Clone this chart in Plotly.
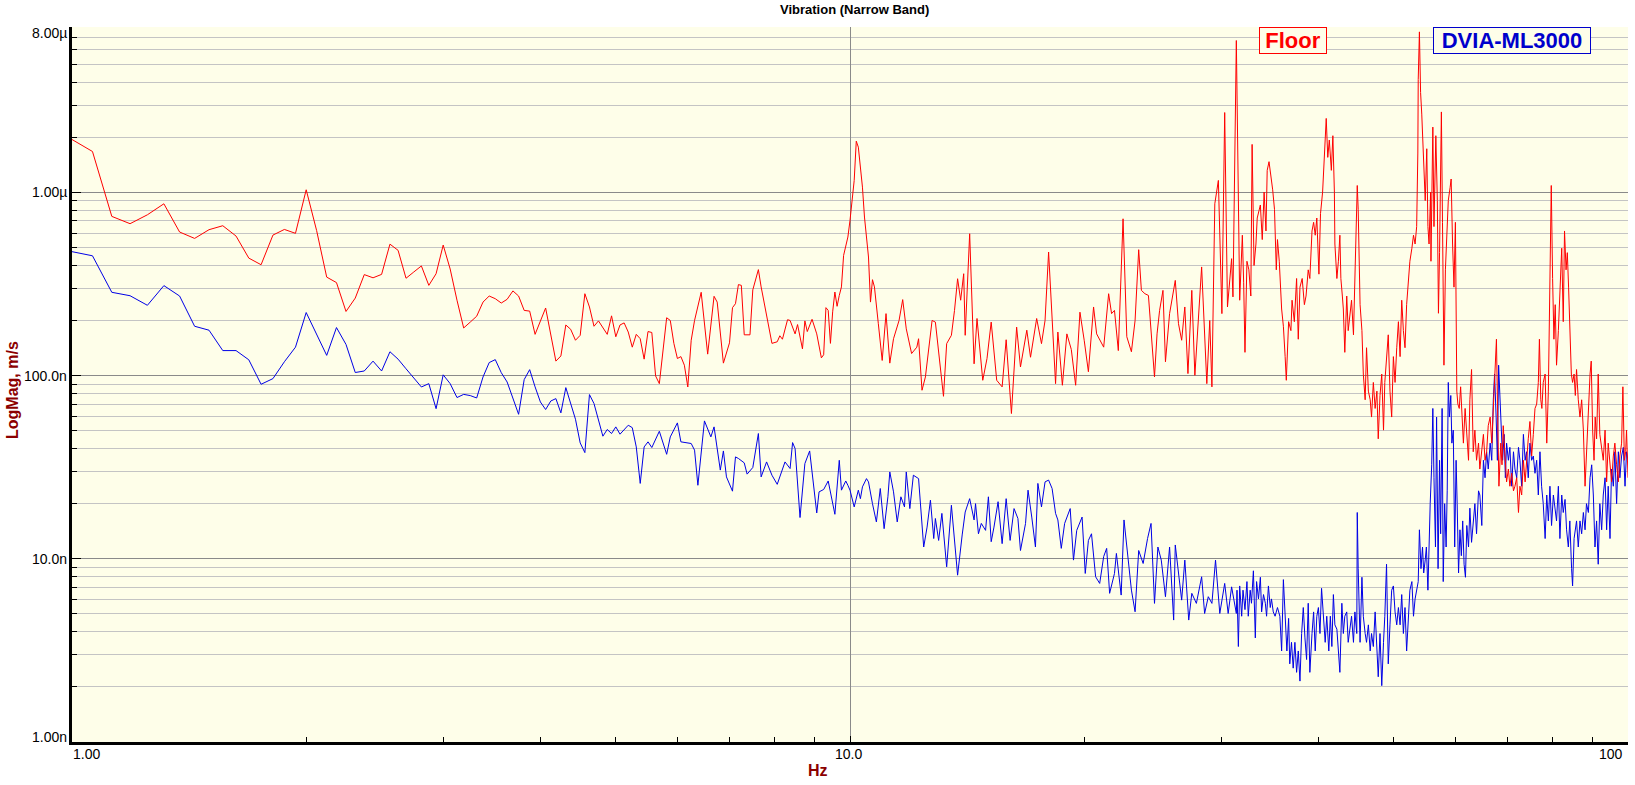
import numpy as np
import plotly.graph_objects as go

# ---------------- data (frequency in Hz, magnitude in nm/s) ----------------
floor_hz = [
    1.0, 1.0625, 1.125, 1.1875, 1.25, 1.3125, 1.375, 1.4375, 1.5, 1.5625,
    1.625, 1.6875, 1.75, 1.8125, 1.875, 1.9375, 2.0, 2.0625, 2.125, 2.1875,
    2.25, 2.3125, 2.375, 2.4375, 2.5, 2.5625, 2.625, 2.6875, 2.75, 2.8125,
    2.875, 2.9375, 3.0, 3.0625, 3.125, 3.1875, 3.25, 3.3125, 3.375, 3.4375,
    3.5, 3.5625, 3.625, 3.6875, 3.75, 3.8125, 3.875, 3.9375, 4.0625, 4.1875,
    4.25, 4.3125, 4.375, 4.4375, 4.5, 4.5625, 4.625, 4.6875, 4.75, 4.875,
    4.9375, 5.0, 5.0625, 5.125, 5.1875, 5.25, 5.3125, 5.375, 5.4375, 5.5,
    5.5625, 5.625, 5.6875, 5.8125, 5.875, 5.9375, 6.0, 6.0625, 6.125, 6.1875,
    6.25, 6.3125, 6.4375, 6.5625, 6.6875, 6.75, 6.875, 7.0, 7.0625, 7.125,
    7.1875, 7.25, 7.3125, 7.4375, 7.5, 7.625, 7.6875, 7.8125, 7.9375, 8.0625,
    8.125, 8.1875, 8.3125, 8.375, 8.5, 8.5625, 8.6875, 8.75, 8.8125, 8.9375,
    9.0625, 9.1875, 9.25, 9.3125, 9.375, 9.4375, 9.5, 9.5625, 9.625, 9.6875,
    9.75, 9.8125, 9.875, 9.9375, 10.0, 10.125, 10.1875, 10.25, 10.375, 10.4375,
    10.5625, 10.625, 10.6875, 10.75, 10.875, 11.0, 11.125, 11.25, 11.375, 11.5625,
    11.6875, 11.8125, 12.0, 12.1875, 12.25, 12.375, 12.5, 12.75, 12.875, 13.0625,
    13.1875, 13.3125, 13.5, 13.625, 13.75, 13.875, 14.0, 14.0625, 14.25, 14.4375,
    14.5625, 14.8125, 15.0, 15.1875, 15.4375, 15.6875, 15.875, 16.125, 16.375, 16.5625,
    16.875, 17.0625, 17.375, 17.625, 17.8125, 18.0, 18.375, 18.5, 18.75, 19.0,
    19.25, 19.5, 19.75, 20.0, 20.25, 20.5625, 20.75, 21.1875, 21.5, 21.6875,
    21.875, 22.125, 22.4375, 22.6875, 23.0, 23.25, 23.5, 23.6875, 23.9375, 24.1875,
    24.4375, 24.625, 24.8125, 25.0, 25.25, 25.4375, 25.75, 26.1875, 26.4375, 26.6875,
    26.9375, 27.1875, 27.5, 27.75, 28.3125, 28.75, 29.0, 29.1875, 29.4375, 29.75,
    30.0625, 30.3125, 30.5625, 30.9375, 31.0625, 31.375, 31.6875, 31.9375, 32.0625, 32.1875,
    32.375, 32.5625, 32.75, 32.875, 33.0625, 33.25, 33.375, 33.5625, 33.6875, 33.875,
    34.0625, 34.25, 34.375, 34.5625, 34.75, 34.9375, 35.125, 35.3125, 35.4375, 35.625,
    35.875, 36.0625, 36.25, 36.375, 36.625, 36.875, 37.0, 37.25, 37.5, 37.6875,
    37.875, 38.125, 38.375, 38.5625, 38.8125, 39.0, 39.25, 39.4375, 39.625, 39.8125,
    40.0625, 40.25, 40.5, 40.6875, 40.9375, 41.125, 41.3125, 41.5625, 41.75, 41.9375,
    42.0, 42.25, 42.4375, 42.625, 42.75, 42.9375, 43.0625, 43.25, 43.5, 43.6875,
    43.9375, 44.125, 44.375, 44.5625, 44.875, 45.0, 45.25, 45.5, 45.6875, 45.9375,
    46.125, 46.375, 46.625, 46.8125, 47.0625, 47.3125, 47.5625, 47.75, 48.0, 48.25,
    48.5, 48.6875, 48.9375, 49.1875, 49.4375, 49.6875, 49.9375, 50.1875, 50.4375, 50.6875,
    50.9375, 51.1875, 51.4375, 51.6875, 51.9375, 52.1875, 52.4375, 52.75, 53.0, 53.25,
    53.5, 53.6875, 53.75, 53.9375, 54.125, 54.3125, 54.5625, 54.875, 55.125, 55.3125,
    55.5, 55.75, 55.8125, 56.125, 56.3125, 56.5, 56.625, 56.875, 57.0625, 57.25,
    57.5625, 57.75, 58.0, 58.25, 58.4375, 58.75, 59.0625, 59.25, 59.5, 59.75,
    60.0, 60.25, 60.4375, 60.6875, 60.9375, 61.1875, 61.4375, 61.75, 62.0625, 62.375,
    62.625, 62.9375, 63.25, 63.5625, 63.875, 64.25, 64.5, 64.875, 65.1875, 65.5,
    65.8125, 66.125, 66.5, 66.8125, 67.125, 67.4375, 67.75, 68.0, 68.25, 68.625,
    68.875, 69.125, 69.5, 69.8125, 70.1875, 70.5, 70.875, 71.25, 71.5625, 71.9375,
    72.3125, 72.625, 73.0, 73.375, 73.75, 74.0625, 74.4375, 74.8125, 75.1875, 75.5625,
    75.9375, 76.3125, 76.6875, 76.9375, 77.25, 77.5, 77.8125, 78.25, 78.625, 79.0,
    79.375, 79.6875, 80.0, 80.3125, 80.625, 80.9375, 81.375, 81.75, 82.1875, 82.5625,
    82.875, 83.25, 83.5625, 83.875, 84.1875, 84.5625, 84.875, 85.25, 85.5625, 85.875,
    86.3125, 86.75, 87.1875, 87.625, 88.0625, 88.4375, 88.9375, 89.375, 89.6875, 90.0625,
    90.4375, 90.75, 91.125, 91.5625, 92.0, 92.5, 92.9375, 93.4375, 93.875, 94.3125,
    94.8125, 95.25, 95.75, 96.1875, 96.6875, 97.1875, 97.625, 98.125, 98.5, 98.9375,
    99.3125, 99.5625, 100.0,
]
floor_nms = [
    1945, 1673, 740, 675, 755, 867, 608, 561, 626, 658,
    578, 438, 403, 585, 628, 598, 1034, 620, 345, 322,
    224, 265, 356, 342, 357, 522, 483, 340, 368, 397,
    311, 360, 516, 382, 258, 182, 196, 211, 252, 272,
    263, 249, 261, 290, 272, 227, 225, 168, 234, 120,
    128, 189, 179, 156, 166, 280, 237, 186, 199, 168,
    212, 163, 189, 194, 173, 143, 168, 159, 123, 174,
    172, 99.6, 90.4, 207, 200, 150, 124, 127, 114, 86.7,
    156, 200, 285, 131, 271, 252, 117, 151, 235, 247,
    314, 311, 167, 167, 294, 379, 305, 218, 150, 153,
    165, 158, 202, 200, 169, 190, 140, 199, 174, 203,
    169, 125, 130, 235, 227, 150, 223, 286, 239, 274,
    305, 453, 515, 571, 704, 1163, 1905, 1767, 1069, 734,
    444, 252, 334, 305, 192, 121, 218, 117, 159, 200,
    260, 180, 132, 143, 159, 83.2, 98.3, 200, 196, 111.5,
    77.1, 149.5, 166, 227, 338, 258, 360, 166, 595, 116,
    205, 94.3, 124, 196, 94.3, 86.8, 157, 62.1, 184, 111.5,
    177, 126, 205, 149.5, 200, 473, 90.4, 173, 88.6, 169,
    139, 88.6, 222, 156, 105, 237, 169, 143, 280, 218,
    227, 137, 718, 163, 135, 200, 487, 292, 280, 274,
    156, 98.3, 169, 227, 292, 119, 218, 331, 192, 156,
    237, 102.6, 292, 100.4, 392, 90.4, 200, 86.8, 867, 1163,
    218, 2730, 237, 435, 269, 6750, 258, 584, 321, 134,
    421, 378, 272, 1829, 399, 523, 725, 809, 854, 553,
    1005, 616, 1320, 1472, 1250, 1033, 809, 378, 553, 421,
    231, 186, 127, 94.3, 197, 176, 258, 197, 339, 158,
    304, 339, 244, 272, 378, 339, 616, 687, 584, 725,
    358, 766, 1005, 1641, 2535, 1554, 1932, 1320, 2040, 1005,
    523, 339, 421, 584, 339, 272, 231, 134, 272, 176,
    219, 258, 167, 304, 1091, 809, 244, 176, 102, 73.8,
    142, 82.3, 73.8, 59.4, 91.8, 66.2, 82.3, 45.2, 77.9, 102,
    50.4, 91.8, 127, 167, 82.3, 59.4, 127, 91.8, 142, 197,
    127, 258, 176, 142, 244, 339, 421, 496, 584, 523,
    651, 1641, 4137, 7526, 3514, 2677, 1472, 902, 1732, 651,
    523, 1005, 421, 2274, 651, 1320, 2040, 902, 219, 469,
    2751, 687, 114, 378, 523, 902, 1062, 1184, 523, 304,
    687, 82.3, 69.9, 66.2, 86.9, 59.4, 42.8, 66.2, 47.8, 34.5,
    73.8, 108, 38.4, 50.4, 34.5, 42.8, 30.9, 38.4, 47.8, 34.5,
    38.4, 53.3, 59.4, 42.8, 66.2, 96.9, 158, 59.4, 24.9, 42.8,
    32.6, 53.3, 34.5, 26.3, 30.9, 24.9, 29.3, 23.5, 24.9, 27.7,
    17.9, 24.9, 22.3, 34.5, 26.3, 36.4, 45.2, 56.2, 36.4, 47.8,
    66.2, 69.9, 91.8, 158, 73.8, 66.2, 91.8, 102, 42.8, 82.3,
    272, 1091, 339, 158, 244, 114, 176, 304, 496, 197,
    616, 378, 469, 304, 158, 102, 91.8, 102, 77.9, 108,
    73.8, 59.4, 73.8, 50.4, 24.9, 38.4, 66.2, 102, 120, 50.4,
    34.5, 59.4, 45.2, 102, 47.8, 38.4, 34.5, 50.4, 26.3, 42.8,
    34.5, 26.3, 36.4, 42.8, 32.6, 26.3, 36.4, 42.8, 86.9, 34.5,
    38.4, 50.4, 27.7,
]

dvia_hz = [
    1.0, 1.0625, 1.125, 1.1875, 1.25, 1.3125, 1.375, 1.4375, 1.5, 1.5625,
    1.625, 1.6875, 1.75, 1.8125, 1.875, 1.9375, 2.0, 2.0625, 2.125, 2.1875,
    2.25, 2.3125, 2.375, 2.4375, 2.5, 2.5625, 2.625, 2.6875, 2.75, 2.8125,
    2.875, 2.9375, 3.0, 3.0625, 3.125, 3.1875, 3.25, 3.3125, 3.375, 3.4375,
    3.5, 3.5625, 3.625, 3.75, 3.8125, 3.875, 3.9375, 4.0, 4.0625, 4.125,
    4.1875, 4.25, 4.3125, 4.4375, 4.5, 4.5625, 4.625, 4.6875, 4.8125, 4.875,
    4.9375, 5.0, 5.0625, 5.125, 5.1875, 5.25, 5.3125, 5.375, 5.4375, 5.5,
    5.5625, 5.6875, 5.8125, 5.875, 6.0, 6.0625, 6.25, 6.3125, 6.375, 6.5,
    6.625, 6.6875, 6.8125, 6.875, 6.9375, 7.0625, 7.125, 7.1875, 7.3125, 7.375,
    7.5, 7.625, 7.6875, 7.8125, 7.9375, 8.0625, 8.25, 8.375, 8.4375, 8.5,
    8.625, 8.75, 8.875, 9.0625, 9.125, 9.25, 9.375, 9.5625, 9.6875, 9.75,
    9.875, 9.9375, 10.0, 10.125, 10.25, 10.3125, 10.375, 10.5, 10.5625, 10.6875,
    10.8125, 10.9375, 11.0625, 11.1875, 11.25, 11.375, 11.5, 11.625, 11.75, 11.8125,
    11.9375, 12.0625, 12.25, 12.4375, 12.5625, 12.6875, 12.8125, 12.875, 13.0, 13.125,
    13.3125, 13.5, 13.625, 13.75, 13.9375, 14.0625, 14.25, 14.4375, 14.5, 14.625,
    14.75, 14.9375, 15.0625, 15.1875, 15.3125, 15.5, 15.6875, 15.875, 16.0625, 16.25,
    16.4375, 16.5625, 16.8125, 16.9375, 17.125, 17.3125, 17.4375, 17.625, 17.8125, 18.0,
    18.1875, 18.375, 18.5, 18.6875, 18.875, 19.1875, 19.375, 19.5625, 19.875, 20.0625,
    20.25, 20.4375, 20.6875, 20.9375, 21.1875, 21.375, 21.5625, 21.875, 22.0, 22.3125,
    22.5, 22.8125, 23.0, 23.25, 23.5, 23.8125, 24.125, 24.375, 24.625, 24.875,
    25.125, 25.4375, 25.75, 26.0625, 26.1875, 26.6875, 26.9375, 27.25, 27.5, 27.875,
    28.3125, 28.5625, 28.875, 29.1875, 29.5, 29.875, 30.3125, 30.625, 30.9375, 31.375,
    31.4375, 31.5625, 31.6875, 31.875, 32.0, 32.1875, 32.375, 32.5, 32.6875, 32.8125,
    33.0, 33.1875, 33.3125, 33.5, 33.6875, 33.8125, 34.0, 34.1875, 34.3125, 34.5,
    34.6875, 34.8125, 35.0, 35.1875, 35.4375, 35.6875, 35.875, 36.0625, 36.25, 36.4375,
    36.625, 36.75, 36.9375, 37.125, 37.3125, 37.5, 37.6875, 37.875, 38.0625, 38.25,
    38.4375, 38.625, 38.8125, 39.0, 39.25, 39.4375, 39.625, 39.8125, 40.0, 40.1875,
    40.375, 40.625, 40.8125, 41.0, 41.25, 41.4375, 41.625, 41.8125, 42.0, 42.25,
    42.4375, 42.625, 42.875, 43.0625, 43.25, 43.5, 43.6875, 43.9375, 44.125, 44.375,
    44.5625, 44.8125, 44.875, 45.0, 45.25, 45.5, 45.6875, 45.9375, 46.125, 46.375,
    46.625, 46.8125, 47.0625, 47.3125, 47.5625, 47.75, 48.0, 48.25, 48.5, 48.6875,
    48.9375, 49.1875, 49.4375, 49.6875, 49.9375, 50.1875, 50.4375, 50.6875, 50.9375, 51.1875,
    51.4375, 51.6875, 51.9375, 52.1875, 52.4375, 52.75, 53.0, 53.25, 53.5, 53.75,
    53.9375, 54.1875, 54.4375, 54.625, 54.875, 55.0625, 55.3125, 55.5, 55.6875, 55.9375,
    56.125, 56.3125, 56.5625, 56.75, 57.0, 57.25, 57.4375, 57.6875, 57.875, 58.125,
    58.375, 58.5625, 58.75, 58.9375, 59.1875, 59.375, 59.625, 59.875, 60.125, 60.3125,
    60.5625, 60.8125, 61.0625, 61.3125, 61.5625, 61.8125, 62.0625, 62.375, 62.625, 62.9375,
    63.25, 63.5625, 63.875, 64.25, 64.5, 64.875, 65.1875, 65.5, 65.8125, 66.125,
    66.5, 66.8125, 67.125, 67.375, 67.6875, 67.9375, 68.1875, 68.5, 68.75, 69.0,
    69.3125, 69.5625, 69.8125, 70.1875, 70.5, 70.875, 71.25, 71.5625, 71.9375, 72.3125,
    72.625, 73.0, 73.375, 73.75, 74.0625, 74.4375, 74.8125, 75.1875, 75.5625, 75.9375,
    76.3125, 76.6875, 77.0625, 77.4375, 77.8125, 78.25, 78.625, 79.0, 79.375, 79.75,
    80.1875, 80.5625, 80.9375, 81.375, 81.75, 82.1875, 82.5625, 83.0, 83.375, 83.8125,
    84.1875, 84.625, 84.875, 85.25, 85.5625, 85.875, 86.3125, 86.75, 87.1875, 87.625,
    88.0625, 88.4375, 88.9375, 89.375, 89.8125, 90.25, 90.6875, 91.125, 91.5625, 92.0,
    92.5, 92.9375, 93.4375, 93.875, 94.3125, 94.8125, 95.25, 95.75, 96.1875, 96.6875,
    97.1875, 97.625, 98.125, 98.625, 99.125, 99.5625, 100.0,
]
dvia_nms = [
    475, 451, 285, 273, 242, 310, 272, 186, 177, 137,
    137, 122, 89.7, 96.3, 119, 143, 221, 169, 129, 183,
    148, 104, 106, 120, 106, 135, 123, 109, 97.5, 86.7,
    90.4, 66, 101, 90.4, 75.9, 79, 77.8, 75.5, 98.3, 117.8,
    122.3, 103.8, 92.3, 61.5, 95.1, 107.8, 86.8, 71.8, 65.3, 72.7,
    74.9, 62.6, 86.0, 57.8, 42.9, 38.0, 78.8, 70.4, 46.7, 50.8,
    48.3, 52.5, 47.9, 50.8, 53.6, 52.0, 40.8, 25.8, 40.8, 43.5,
    40.5, 49.7, 37.2, 46.3, 55.2, 43.5, 42.6, 39.2, 25.2, 56.6,
    46.3, 52.5, 30.5, 38.8, 28.0, 23.4, 36.0, 35.3, 33.4, 29.0,
    31.5, 48.3, 28.0, 33.8, 28.6, 25.5, 33.8, 31.1, 43.1, 40.0,
    16.8, 33.1, 38.8, 17.8, 23.2, 23.9, 26.6, 17.5, 34.5, 23.7,
    26.6, 25.2, 23.7, 19.2, 23.7, 21.3, 24.7, 27.4, 26.3, 20.0,
    15.9, 24.2, 14.6, 21.8, 29.8, 23.2, 15.9, 21.8, 19.2, 29.8,
    18.8, 28.6, 27.4, 11.6, 14.9, 20.9, 12.9, 16.6, 12.6, 17.7,
    9.04, 19.6, 12.9, 8.14, 13.5, 18.0, 21.3, 16.3, 20.0, 13.7,
    15.6, 14.3, 21.8, 12.4, 14.9, 20.5, 12.1, 21.3, 12.6, 18.8,
    16.6, 11.1, 15.6, 23.7, 16.9, 11.6, 25.8, 19.2, 26.3, 26.9,
    24.2, 17.7, 16.3, 11.4, 15.6, 18.8, 9.84, 14.3, 16.9, 8.32,
    12.6, 13.7, 7.98, 7.34, 10.3, 11.4, 6.48, 8.32, 10.7, 6.34,
    16.3, 9.04, 6.75, 5.14, 11.1, 9.43, 12.9, 15.6, 5.71, 11.6,
    9.84, 6.21, 11.6, 4.63, 11.9, 5.95, 9.84, 4.63, 6.48, 5.71,
    7.98, 5.03, 6.21, 5.71, 9.84, 5.03, 7.34, 5.03, 7.03, 5.03,
    6.74, 3.32, 7.11, 4.86, 6.74, 5.28, 7.51, 4.86, 6.74, 5.72,
    8.6, 3.70, 7.51, 6.04, 7.93, 5.13, 6.38, 5.72, 4.86, 7.11,
    5.42, 6.04, 5.13, 4.86, 5.42, 4.86, 3.14, 7.7, 4.36, 3.14,
    4.73, 2.67, 3.50, 2.53, 3.50, 2.40, 3.14, 2.15, 3.91, 5.42,
    3.70, 2.82, 5.72, 2.40, 3.91, 5.13, 3.14, 4.86, 5.42, 3.91,
    6.9, 4.36, 3.50, 4.86, 3.14, 4.86, 3.32, 6.38, 4.36, 4.13,
    3.14, 2.40, 5.72, 3.91, 4.86, 5.13, 3.50, 4.36, 4.86, 3.50,
    5.13, 3.91, 17.9, 8.84, 3.50, 7.93, 4.86, 3.91, 3.50, 4.36,
    3.14, 3.91, 3.32, 5.13, 2.82, 2.27, 3.91, 2.03, 3.50, 4.86,
    9.34, 2.67, 4.36, 6.74, 7.11, 5.13, 4.36, 5.42, 4.36, 6.38,
    3.91, 5.42, 3.14, 4.36, 6.74, 7.51, 4.86, 6.04, 6.74, 7.51,
    14.4, 8.84, 11.6, 8.37, 9.86, 11.6, 6.74, 14.4, 20.0, 32.6,
    66.2, 27.7, 11.6, 59.4, 8.84, 34.5, 13.7, 66.2, 7.51, 20.0,
    11.6, 23.5, 91.8, 59.4, 77.9, 42.8, 50.4, 11.6, 34.5, 20.0,
    8.37, 14.4, 10.4, 16.1, 9.34, 7.93, 15.2, 11.6, 18.9, 12.3,
    16.1, 20.0, 13.7, 23.5, 22.3, 15.2, 34.5, 27.7, 38.4, 30.9,
    42.8, 34.5, 73.8, 102, 59.4, 34.5, 114, 73.8, 47.8, 34.5,
    47.8, 27.7, 42.8, 34.5, 40.6, 24.9, 38.4, 30.9, 27.7, 40.6,
    34.5, 24.9, 47.8, 34.5, 38.4, 27.7, 42.8, 34.5, 36.4, 29.3,
    34.5, 22.3, 38.4, 24.9, 20.0, 12.9, 22.3, 16.1, 24.9, 15.2,
    22.3, 18.9, 16.1, 24.9, 12.9, 22.3, 17.9, 21.1, 14.4, 11.6,
    16.1, 8.84, 7.11, 12.9, 14.4, 16.1, 11.6, 16.1, 13.7, 17.9,
    14.4, 20.0, 17.9, 27.7, 32.6, 22.3, 11.6, 16.1, 9.34, 20.0,
    14.4, 22.3, 27.7, 14.4, 24.9, 12.9, 30.9, 24.9, 38.4, 20.0,
    38.4, 27.7, 36.4, 40.6, 24.9, 38.4, 34.5,
]

x_tick_labels = ["1.00", "10.0", "100"]
x_tick_hz = [1, 10, 100]
y_tick_labels = ["1.00n", "10.0n", "100.0n", "1.00µ", "8.00µ"]
y_tick_vals = [1e-9, 1e-8, 1e-7, 1e-6, 8e-6]
series_names = ["Floor", "DVIA-ML3000"]

NANO = 1e-9
floor_y = np.array(floor_nms) * NANO
dvia_y = np.array(dvia_nms) * NANO

# ---------------- styling ----------------
FONT = "Liberation Sans"
RED = "#FF0000"
BLUE = "#0000E6"
DARKRED = "#8B0000"
BG = "#FEFEE9"

fig = go.Figure()
fig.add_trace(go.Scatter(x=dvia_hz, y=dvia_y, mode="lines",
                         line=dict(color=BLUE, width=1), name=series_names[1],
                         hoverinfo="skip"))
fig.add_trace(go.Scatter(x=floor_hz, y=floor_y, mode="lines",
                         line=dict(color=RED, width=1), name=series_names[0],
                         hoverinfo="skip"))

y_minor = [m * 10.0 ** e for e in range(-9, -6) for m in range(2, 10)] + \
          [m * 1e-6 for m in range(2, 8)]
x_minor = [m * 10.0 ** e for e in range(0, 2) for m in range(2, 10)]

fig.update_layout(
    width=1635, height=785,
    margin=dict(l=72, r=7, t=27, b=43),
    paper_bgcolor="white",
    plot_bgcolor=BG,
    showlegend=False,
    hovermode=False,
    font=dict(family=FONT, size=14, color="black"),
    xaxis=dict(
        type="log", range=[0, 2],
        tickmode="array", tickvals=[10],
        showticklabels=False,
        showgrid=True, gridcolor="#8A8A8A", gridwidth=1,
        ticks="inside", ticklen=6, tickcolor="black",
        showline=True, linecolor="black", linewidth=3,
        zeroline=False,
        minor=dict(tickmode="array", tickvals=x_minor, ticks="inside",
                   ticklen=5, tickcolor="black", showgrid=False),
    ),
    yaxis=dict(
        type="log", range=[-9, np.log10(8e-6)],
        tickmode="array", tickvals=[1e-9, 1e-8, 1e-7, 1e-6],
        showticklabels=False,
        showgrid=True, gridcolor="#8A8A8A", gridwidth=1,
        ticks="inside", ticklen=9, tickcolor="black",
        showline=True, linecolor="black", linewidth=3,
        zeroline=False,
        minor=dict(tickmode="array", tickvals=y_minor, ticks="inside",
                   ticklen=5, tickcolor="black", showgrid=True,
                   gridcolor="#C4C4C4", gridwidth=1),
    ),
)

ann = []
# x tick labels
anchors = ["left", "center", "right"]
xshifts = [-1, -2, -3]
for lab, hz, anc, xs in zip(x_tick_labels, x_tick_hz, anchors, xshifts):
    ann.append(dict(text=lab, x=np.log10(hz), xref="x", y=0, yref="paper",
                    xanchor=anc, yanchor="middle", yshift=-12, xshift=xs,
                    showarrow=False, font=dict(family=FONT, size=14, color="black")))
# y tick labels
yshifts = [5, 0, 0, 0, -6]
for lab, val, ys in zip(y_tick_labels, y_tick_vals, yshifts):
    ann.append(dict(text=lab, x=0, xref="paper", y=np.log10(val), yref="y",
                    xanchor="right", yanchor="middle", xshift=-3, yshift=ys,
                    showarrow=False, font=dict(family=FONT, size=14, color="black")))
# axis titles
ann.append(dict(text="<b>Hz</b>", x=0.4794, xref="paper", y=0, yref="paper",
                xanchor="center", yanchor="middle", yshift=-28, showarrow=False,
                font=dict(family=FONT, size=16, color=DARKRED)))
ann.append(dict(text="<b>LogMag, m/s</b>", x=0, xref="paper", y=0.4923, yref="paper",
                xanchor="center", yanchor="middle", xshift=-60, textangle=-90,
                showarrow=False, font=dict(family=FONT, size=16, color=DARKRED)))
# title
ann.append(dict(text="<b>Vibration (Narrow Band)</b>", x=0.5032, xref="paper", y=1,
                yref="paper", xanchor="center", yanchor="middle", yshift=17.5,
                showarrow=False, font=dict(family=FONT, size=13, color="black")))
# legend boxes
ann.append(dict(text="<b>%s</b>" % series_names[0], x=0.7847, xref="paper", y=0.9811,
                yref="paper", xanchor="center", yanchor="middle", showarrow=False,
                width=66, height=25, borderpad=0, borderwidth=1, bordercolor=RED,
                bgcolor=BG, font=dict(family=FONT, size=22, color=RED)))
ann.append(dict(text="<b>%s</b>" % series_names[1], x=0.9254, xref="paper", y=0.9811,
                yref="paper", xanchor="center", yanchor="middle", showarrow=False,
                width=156, height=25, borderpad=0, borderwidth=1, bordercolor="#0000CC",
                bgcolor=BG, font=dict(family=FONT, size=22, color="#0000CC")))
fig.update_layout(annotations=ann)

fig.write_html("out.html",
               config={"displayModeBar": False},
               post_script="document.body.style.margin='0px';"
                           "document.body.style.padding='0px';")
